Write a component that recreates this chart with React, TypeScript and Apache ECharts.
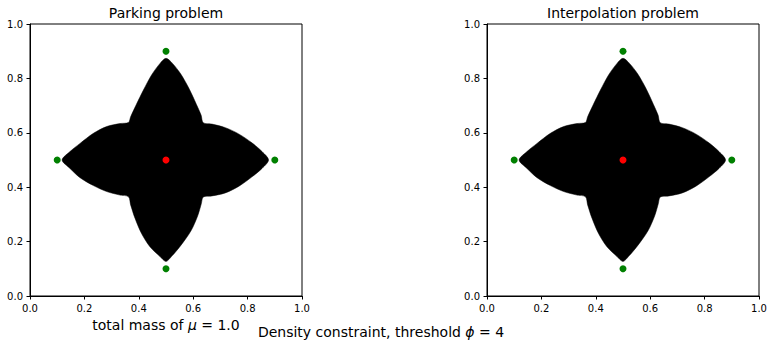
import React, { useEffect, useRef } from "react";
import * as echarts from "echarts";

const panelTitles = ["Parking problem", "Interpolation problem"];
const xLabelText = "{a|total mass of }{m|μ}{a| = 1.0}";
const supTitleText = "{a|Density constraint, threshold }{m|ϕ}{a| = 4}";

// green source points
const sourceX = [0.5, 0.1, 0.9, 0.5];
const sourceY = [0.9, 0.5, 0.5, 0.1];
// red centre point
const targetX = [0.5];
const targetY = [0.5];

// boundary of the black region
const boundaryX = [
  0.5, 0.478, 0.447, 0.417, 0.39, 0.37, 0.362,
  0.331, 0.282, 0.233, 0.184, 0.147, 0.118,
  0.147, 0.184, 0.233, 0.282, 0.331, 0.362,
  0.37, 0.386, 0.41, 0.441, 0.478, 0.5,
  0.52, 0.553, 0.592, 0.617, 0.63, 0.637,
  0.669, 0.718, 0.767, 0.816, 0.853, 0.877,
  0.853, 0.816, 0.767, 0.718, 0.669, 0.637,
  0.629, 0.612, 0.586, 0.555, 0.523,
];
const boundaryY = [
  0.874, 0.855, 0.8125, 0.757, 0.702, 0.659, 0.638,
  0.634, 0.623, 0.598, 0.561, 0.531, 0.5,
  0.469, 0.435, 0.406, 0.384, 0.371, 0.365,
  0.335, 0.286, 0.23, 0.181, 0.145, 0.127,
  0.145, 0.184, 0.24, 0.296, 0.34, 0.364,
  0.368, 0.379, 0.403, 0.438, 0.469, 0.5,
  0.531, 0.563, 0.596, 0.619, 0.632, 0.637,
  0.665, 0.704, 0.76, 0.815, 0.856,
];

const FONT = "DejaVu Sans";

export default function App() {
  const ref = useRef<HTMLDivElement>(null);
  useEffect(() => {
    if (!ref.current) return;
    const chart = echarts.init(ref.current, null, { renderer: "svg" });
    const gridLefts = [30, 487];
    const grids = gridLefts.map((l) => ({
      left: l,
      top: 24,
      width: 272,
      height: 272,
      show: true,
      borderColor: "#000",
      borderWidth: 1,
      backgroundColor: "#fff",
    }));
    const axisCommon = {
      type: "value",
      min: 0,
      max: 1,
      interval: 0.2,
      axisLine: { show: true, onZero: false, lineStyle: { color: "#000", width: 1 } },
      axisTick: { show: true, inside: false, length: 3.5, lineStyle: { color: "#000" } },
      axisLabel: {
        show: true,
        margin: 7,
        color: "#000",
        fontFamily: FONT,
        fontSize: 10,
        formatter: (v: number) => v.toFixed(1),
      },
      splitLine: { show: false },
    };
    const xAxes = grids.map((_, i) => ({ ...axisCommon, gridIndex: i }));
    const yAxes = grids.map((_, i) => ({ ...axisCommon, gridIndex: i }));
    const series: any[] = [];
    grids.forEach((_, i) => {
      series.push({
        type: "custom",
        xAxisIndex: i,
        yAxisIndex: i,
        data: [[targetX[0], targetY[0]]],
        renderItem: (params: any, api: any) => {
          const pts = boundaryX.map((x, k) => api.coord([x, boundaryY[k]]));
          return {
            type: "polygon",
            shape: { points: pts, smooth: 0.3 },
            style: { fill: "#000", stroke: "#000", lineWidth: 0.5 },
          };
        },
        z: 1,
      });
      series.push({
        type: "scatter",
        xAxisIndex: i,
        yAxisIndex: i,
        symbolSize: 7,
        itemStyle: { color: "#008000", opacity: 1 },
        data: sourceX.map((x, k) => [x, sourceY[k]]),
        z: 3,
      });
      series.push({
        type: "scatter",
        xAxisIndex: i,
        yAxisIndex: i,
        symbolSize: 7,
        itemStyle: { color: "#ff0000", opacity: 1 },
        data: targetX.map((x, k) => [x, targetY[k]]),
        z: 3,
      });
    });
    const rich = {
      a: { fontFamily: FONT, fontSize: 14, fill: "#000", color: "#000" },
      m: { fontFamily: FONT, fontSize: 14, fontStyle: "italic", fill: "#000", color: "#000" },
    };
    chart.setOption({
      animation: false,
      backgroundColor: "#fff",
      grid: grids,
      xAxis: xAxes,
      yAxis: yAxes,
      series,
      graphic: [
        ...panelTitles.map((t, i) => ({
          type: "text",
          x: gridLefts[i] + 136,
          y: 13,
          style: {
            text: t,
            fontFamily: FONT,
            fontSize: 14,
            fill: "#000",
            align: "center",
            verticalAlign: "middle",
          },
        })),
        {
          type: "text",
          x: 166,
          y: 325,
          style: {
            text: xLabelText,
            rich,
            fontFamily: FONT,
            fontSize: 14,
            fill: "#000",
            align: "center",
            verticalAlign: "middle",
          },
        },
        {
          type: "text",
          x: 381,
          y: 332,
          style: {
            text: supTitleText,
            rich,
            fontFamily: FONT,
            fontSize: 14,
            fill: "#000",
            align: "center",
            verticalAlign: "middle",
          },
        },
      ],
    });
    return () => chart.dispose();
  }, []);
  return (
    <div
      ref={ref}
      style={{ position: "absolute", left: 0, top: 0, width: 773, height: 355, background: "#fff" }}
    />
  );
}
